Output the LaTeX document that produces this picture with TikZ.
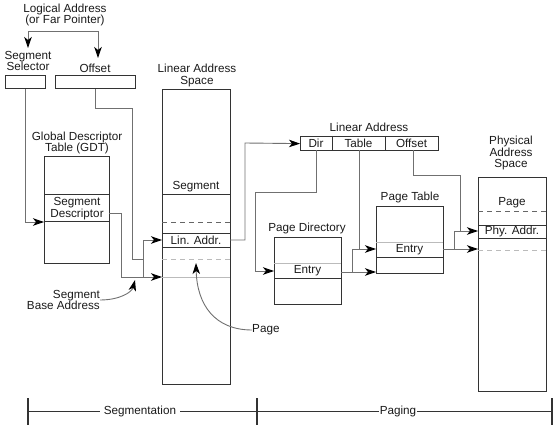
\documentclass[tikz,border=0pt]{standalone}
\usepackage{fontspec}
\setmainfont{Liberation Sans}
\usetikzlibrary{arrows.meta}
\definecolor{boxc}{HTML}{333333}
\definecolor{connc}{HTML}{707070}
\definecolor{lightc}{HTML}{BBBBBB}
\definecolor{dashc}{HTML}{666666}
\definecolor{textc}{HTML}{1A1A1A}
\begin{document}
\begin{tikzpicture}[x=1pt,y=-1pt,
  font=\fontsize{11.7}{11.8}\selectfont, text=textc,
  box/.style={draw=boxc,line width=1.2pt,inner sep=0pt,anchor=north west},
  div/.style={draw=boxc,line width=1pt},
  lightdiv/.style={draw=lightc,line width=1pt},
  darkdash/.style={draw=dashc,line width=1pt,dash pattern=on 5pt off 4pt},
  lightdash/.style={draw=lightc,line width=1pt,dash pattern=on 5pt off 4pt},
  lbl/.style={inner sep=0pt,align=center},
  conn/.style={draw=connc,line width=0.9pt},
  tip/.tip={Stealth[length=11pt,width=7.5pt,inset=3pt,color=black]},
  arr/.style={conn,-tip},
  scaleline/.style={draw=boxc,line width=0.8pt},
  tickline/.style={draw=boxc,line width=1.4pt}
]
\useasboundingbox (0,0) rectangle (558,428);

% ---------- boxes ----------
\node[box,minimum width=40pt,minimum height=13pt] (sel) at (5,75) {};
\node[box,minimum width=80pt,minimum height=13pt] (off) at (55,75) {};
\node[box,minimum width=65pt,minimum height=107pt] (gdt) at (44,156) {};
\node[box,minimum width=68pt,minimum height=295pt] (las) at (162,89) {};
\node[box,minimum width=138pt,minimum height=14pt] (la) at (300,136) {};
\node[box,minimum width=67pt,minimum height=67pt] (pd) at (274,237) {};
\node[box,minimum width=67pt,minimum height=67pt] (pt) at (376,206) {};
\node[box,minimum width=68pt,minimum height=214pt] (pas) at (478,177) {};

% ---------- dividers ----------
\draw[div] (44,195) -- (109,195);
\draw[div] (44,222) -- (109,222);

\draw[div] (162,195) -- (230,195);
\draw[darkdash] (162,223) -- (230,223);
\draw[div] (162,233) -- (230,233);
\draw[div] (162,247) -- (230,247);
\draw[lightdash] (162,259) -- (230,259);
\draw[lightdiv] (162,277) -- (230,277);

\draw[div] (332,136) -- (332,150);
\draw[div] (385,136) -- (385,150);

\draw[lightdiv] (274,263) -- (341,263);
\draw[div] (274,278) -- (341,278);

\draw[lightdiv] (376,242) -- (443,242);
\draw[div] (376,257) -- (443,257);

\draw[darkdash] (478,212) -- (546,212);
\draw[div] (478,225) -- (546,225);
\draw[div] (478,238) -- (546,238);
\draw[lightdash] (478,250) -- (546,250);

% ---------- labels ----------
\node[lbl] (logl) at (65,15) {Logical Address\\(or Far Pointer)};
\node[lbl] (sell) at (28,61) {Segment\\Selector};
\node[lbl] (offl) at (95,68) {Offset};
\node[lbl] (gdtl) at (77,143) {Global Descriptor\\Table (GDT)};
\node[lbl] (sdesc) at (77,209) {Segment\\Descriptor};
\node[lbl] (lasl) at (197,75.5) {Linear Address\\Space};
\node[lbl] (segt) at (196,187) {Segment};
\node[lbl] (lint) at (196,240) {Lin. Addr.};
\node[lbl,align=right,anchor=east] (sba) at (100,300) {Segment\\Base Address};
\node[lbl,anchor=west] (pagel) at (252,330) {Page};
\node[lbl] (lal) at (369,127) {Linear Address};
\node[lbl] (dirt) at (316,143) {Dir};
\node[lbl] (tabt) at (358.5,143) {Table};
\node[lbl] (offt) at (411.5,143) {Offset};
\node[lbl] (pdl) at (307,228) {Page Directory};
\node[lbl] (pde) at (307.5,271) {Entry};
\node[lbl] (ptl) at (410,197) {Page Table};
\node[lbl] (pte) at (409.5,249.5) {Entry};
\node[lbl] (pasl) at (511,153) {Physical\\Address\\Space};
\node[lbl] (pgt) at (512,203) {Page};
\node[lbl] (phy) at (512,231.5) {Phy. Addr.};

% ---------- connector points ----------
\coordinate (selt) at (28,48);
\coordinate (offtp) at (98,58);
\coordinate (lb) at (28,31);
\coordinate (rb) at (98,31);
\coordinate (gdtin) at (44,222);
\coordinate (o1) at (132,108);
\coordinate (sum1) at (143,259);
\coordinate (sdout) at (109,213);
\coordinate (b1) at (121,277);
\coordinate (lasbase) at (162,277);
\coordinate (j1) at (143,277);
\coordinate (laslin) at (162,240);
\coordinate (lasout) at (230,240);
\coordinate (k1) at (245,143);
\coordinate (dirb) at (316,150);
\coordinate (d1) at (255,192);
\coordinate (pdin) at (274,271);
\coordinate (tabb) at (359,150);
\coordinate (ptin) at (376,249);
\coordinate (pdout) at (341,272);
\coordinate (ptbase) at (376,272);
\coordinate (j2) at (352,272);
\coordinate (ptout) at (443,249);
\coordinate (pasin) at (478,249);
\coordinate (j3) at (454,249);
\coordinate (pasphy) at (478,231);
\coordinate (offb) at (413,150);
\coordinate (o2) at (460,175);
\coordinate (sbatip) at (135,280);
\coordinate (pgtip) at (196,263);

% ---------- connectors ----------
\draw[conn,tip-tip] (selt) -- (lb) -- (rb) -- (offtp);
\draw[arr] (sel.south) |- (gdtin);
\draw[conn] (off.south) |- (o1) |- (sum1);
\draw[arr] (sdout) -| (b1) -- (lasbase);
\draw[arr] (j1) |- (laslin);
\draw[arr] (lasout) -| (k1) -- (la.west);
\draw[arr] (dirb) |- (d1) |- (pdin);
\draw[conn] (tabb) -- (tabb |- ptin);
\draw[arr] (pdout) -- (ptbase);
\draw[arr] (j2) |- (ptin);
\draw[arr] (ptout) -- (pasin);
\draw[arr] (j3) |- (pasphy);
\draw[conn] (offb) |- (o2) -- (o2 |- pasphy);
\draw[arr] (sba.east) .. controls (120,300) and (132,292) .. (sbatip);
\draw[arr] (pagel.west) .. controls (215,330) and (197,305) .. (pgtip);

% ---------- scale ----------
\coordinate (sL) at (28,411);
\coordinate (sM) at (257,411);
\coordinate (sR) at (552,411);
\draw[scaleline] (sL) -- (sR);
\draw[tickline] (28,398) -- (28,425);
\draw[tickline] (257,398) -- (257,425);
\draw[tickline] (552,398) -- (552,425);
\node[fill=white,inner xsep=4pt,inner ysep=1pt] (segm) at (140,411) {Segmentation};
\node[fill=white,inner xsep=1pt,inner ysep=1pt] (pag) at (398,411) {Paging};
\end{tikzpicture}
\end{document}
